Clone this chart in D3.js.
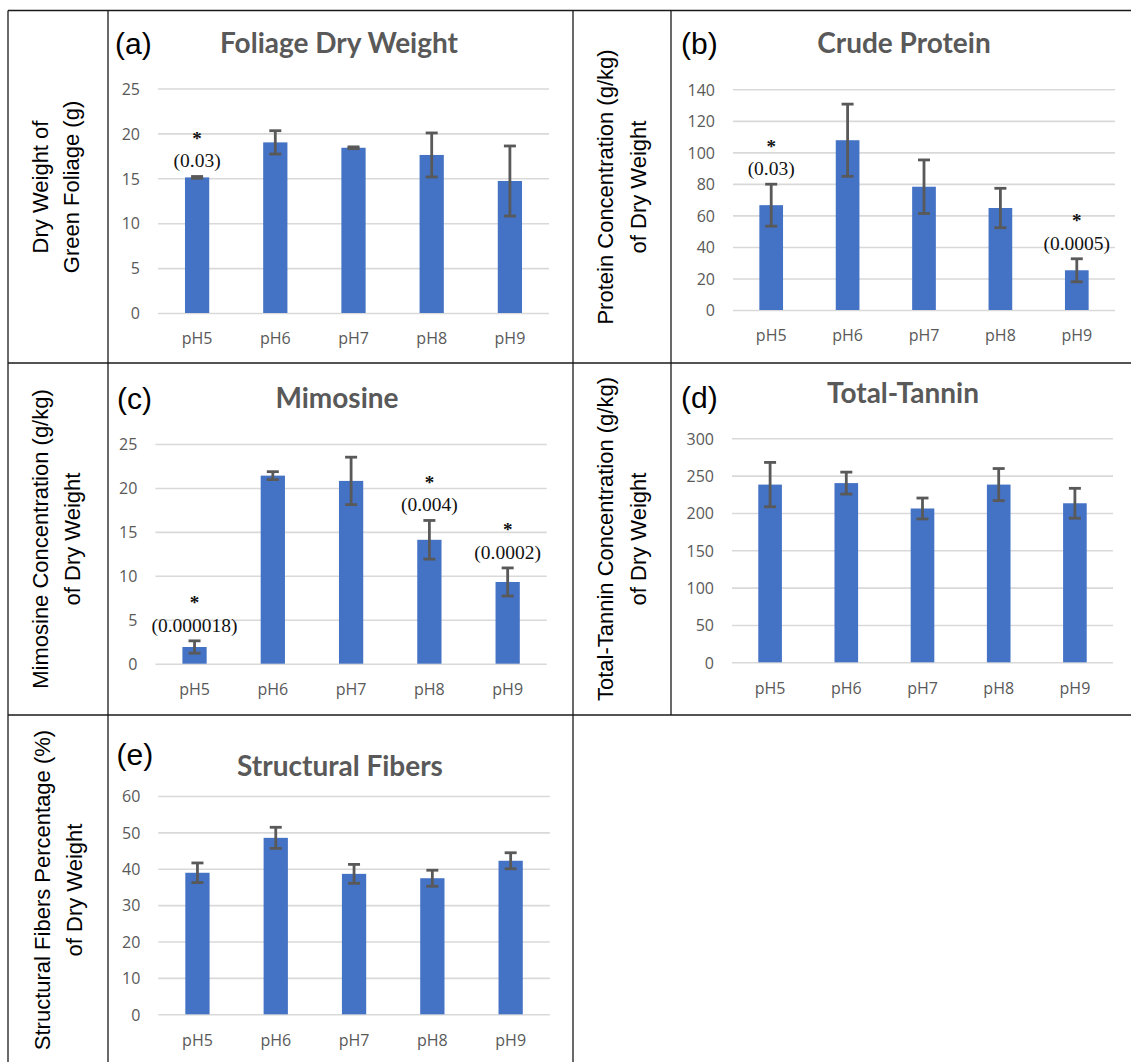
<!DOCTYPE html>
<html>
<head>
<meta charset="utf-8">
<script src="https://cdn.jsdelivr.net/npm/d3@7"></script>
<style>
  html, body { margin: 0; padding: 0; background: #fff; }
  svg { display: block; }
</style>
</head>
<body>
<svg id="fig" width="1131" height="1062"></svg>
<script>
// ---- data ----
const phLevels = ["pH5", "pH6", "pH7", "pH8", "pH9"];

const foliageMean = [15.1, 19.0, 18.4, 17.6, 14.7];
const foliageErr  = [0.1, 1.3, 0.1, 2.45, 3.9];
const foliageP    = ["0.03", null, null, null, null];
const foliageTicks = [0, 5, 10, 15, 20, 25];

const proteinMean = [66.5, 107.7, 78.2, 64.7, 25.2];
const proteinErr  = [13.3, 22.9, 17.0, 12.5, 7.3];
const proteinP    = ["0.03", null, null, null, "0.0005"];
const proteinTicks = [0, 20, 40, 60, 80, 100, 120, 140];

const mimosineMean = [1.9, 21.4, 20.8, 14.1, 9.3];
const mimosineErr  = [0.7, 0.45, 2.7, 2.2, 1.6];
const mimosineP    = ["0.000018", null, null, "0.004", "0.0002"];
const mimosineTicks = [0, 5, 10, 15, 20, 25];

const tanninMean = [238, 240, 206, 238, 213];
const tanninErr  = [29.7, 14.7, 14.0, 21.5, 20.0];
const tanninP    = [null, null, null, null, null];
const tanninTicks = [0, 50, 100, 150, 200, 250, 300];

const fiberMean = [38.9, 48.5, 38.6, 37.4, 42.2];
const fiberErr  = [2.7, 2.9, 2.6, 2.2, 2.2];
const fiberP    = [null, null, null, null, null];
const fiberTicks = [0, 10, 20, 30, 40, 50, 60];

// ---- panel layout ----
const panels = [
  { letter: "(a)", title: "Foliage Dry Weight", yLabel: ["Dry Weight of", "Green Foliage (g)"],
    mean: foliageMean, err: foliageErr, pv: foliageP, ticks: foliageTicks,
    plot: { l: 158, r: 549, t: 88.5, b: 313 },
    titlePos: [339, 52.7], letterPos: [115, 43], yLabPos: [[40, 71], 187] },
  { letter: "(b)", title: "Crude Protein", yLabel: ["Protein Concentration (g/kg)", "of Dry Weight"],
    mean: proteinMean, err: proteinErr, pv: proteinP, ticks: proteinTicks,
    plot: { l: 733, r: 1115, t: 89.3, b: 310 },
    titlePos: [904, 53.3], letterPos: [681, 43], yLabPos: [[605, 638], 187] },
  { letter: "(c)", title: "Mimosine", yLabel: ["Mimosine Concentration (g/kg)", "of Dry Weight"],
    mean: mimosineMean, err: mimosineErr, pv: mimosineP, ticks: mimosineTicks,
    plot: { l: 155.4, r: 546.8, t: 444, b: 663.7 },
    titlePos: [337, 407.7], letterPos: [117, 398], yLabPos: [[40, 72], 539] },
  { letter: "(d)", title: "Total-Tannin", yLabel: ["Total-Tannin Concentration (g/kg)", "of Dry Weight"],
    mean: tanninMean, err: tanninErr, pv: tanninP, ticks: tanninTicks,
    plot: { l: 732, r: 1113, t: 438.3, b: 662.3 },
    titlePos: [903, 403.3], letterPos: [681, 397], yLabPos: [[605, 638], 539] },
  { letter: "(e)", title: "Structural Fibers", yLabel: ["Structural Fibers Percentage (%)", "of Dry Weight"],
    mean: fiberMean, err: fiberErr, pv: fiberP, ticks: fiberTicks,
    plot: { l: 158.3, r: 549.8, t: 796, b: 1014.3 },
    titlePos: [340, 775.7], letterPos: [116.5, 754], yLabPos: [[42, 74], 890] }
];

const BAR = "#4472C4", GRID = "#d9d9d9", INK = "#595959";
const svg = d3.select("#fig");
svg.append("rect").attr("width", 1131).attr("height", 1062).attr("fill", "#fff");

// ---- table frame ----
const frame = svg.append("g").attr("stroke", "#1a1a1a").attr("stroke-width", 1.3).attr("fill", "none");
[[8, 10.5, 1131, 10.5], [8, 363, 1131, 363], [8, 715, 1131, 715],
 [8, 10.5, 8, 1062], [108, 10.5, 108, 1062], [573, 10.5, 573, 1062], [671, 10.5, 671, 715]]
  .forEach(([x1, y1, x2, y2]) => frame.append("line").attr("x1", x1).attr("y1", y1).attr("x2", x2).attr("y2", y2));

// ---- panels ----
panels.forEach(p => {
  const g = svg.append("g");
  const x = d3.scaleBand().domain(phLevels).range([p.plot.l, p.plot.r])
    .paddingInner(0.69).paddingOuter(0.345);
  const yMax = d3.max(p.ticks);
  const y = d3.scaleLinear().domain([0, yMax]).range([p.plot.b, p.plot.t]);

  // gridlines + tick labels
  const yAxis = d3.axisLeft(y).tickValues(p.ticks).tickSize(-(p.plot.r - p.plot.l)).tickPadding(18);
  const ax = g.append("g").attr("transform", `translate(${p.plot.l},0)`).call(yAxis);
  ax.select(".domain").remove();
  ax.selectAll(".tick line").attr("stroke", GRID).attr("stroke-width", 1.6);
  ax.selectAll(".tick text").attr("fill", INK).attr("font-family", "'Open Sans', sans-serif")
    .attr("font-size", 16).attr("dy", "0.36em");

  // x labels
  const xAxis = d3.axisBottom(x).tickSize(0).tickPadding(0);
  const axx = g.append("g").attr("transform", `translate(0,${p.plot.b})`).call(xAxis);
  axx.select(".domain").remove();
  axx.selectAll(".tick text").attr("fill", INK).attr("font-family", "'Open Sans', sans-serif")
    .attr("font-size", 16).attr("y", 25.5).attr("dy", "0.36em");

  const rows = phLevels.map((ph, i) => ({ ph, m: p.mean[i], e: p.err[i], pv: p.pv[i] }));

  // bars
  g.selectAll("rect.bar").data(rows).join("rect").attr("class", "bar")
    .attr("x", d => x(d.ph)).attr("width", x.bandwidth())
    .attr("y", d => y(d.m)).attr("height", d => y(0) - y(d.m))
    .attr("fill", BAR);

  // error bars
  const eb = g.selectAll("g.err").data(rows).join("g").attr("class", "err")
    .attr("stroke", INK).attr("stroke-width", 2.8).attr("fill", "none");
  const cx = d => x(d.ph) + x.bandwidth() / 2;
  eb.append("line").attr("x1", cx).attr("x2", cx).attr("y1", d => y(d.m + d.e)).attr("y2", d => y(d.m - d.e));
  eb.append("line").attr("x1", d => cx(d) - 6).attr("x2", d => cx(d) + 6).attr("y1", d => y(d.m + d.e)).attr("y2", d => y(d.m + d.e));
  eb.append("line").attr("x1", d => cx(d) - 6).attr("x2", d => cx(d) + 6).attr("y1", d => y(d.m - d.e)).attr("y2", d => y(d.m - d.e));

  // significance notes: p-value in parentheses, asterisk above it
  const sig = rows.filter(d => d.pv);
  g.selectAll("text.pv").data(sig).join("text").attr("class", "pv")
    .attr("x", cx).attr("y", d => y(d.m + d.e) - 16).attr("dy", "0.35em")
    .attr("text-anchor", "middle").attr("font-family", "'Liberation Serif', 'Times New Roman', serif")
    .attr("font-size", 19.5).attr("fill", "#111").text(d => `(${d.pv})`);
  g.selectAll("text.star").data(sig).join("text").attr("class", "star")
    .attr("x", cx).attr("y", d => y(d.m + d.e) - 31.5)
    .attr("text-anchor", "middle").attr("font-family", "'Liberation Serif', 'Times New Roman', serif")
    .attr("font-weight", "bold").attr("font-size", 19).attr("fill", "#111").text("*");

  // title
  g.append("text").attr("x", p.titlePos[0]).attr("y", p.titlePos[1]).attr("text-anchor", "middle")
    .attr("font-family", "Lato, sans-serif").attr("font-weight", "bold").attr("font-size", 28)
    .attr("fill", INK).text(p.title);

  // panel letter
  g.append("text").attr("x", p.letterPos[0]).attr("y", p.letterPos[1]).attr("dy", "0.35em")
    .attr("font-family", "'Liberation Sans', Arial, sans-serif").attr("font-size", 30)
    .attr("fill", "#000").text(p.letter);

  // rotated y label
  p.yLabel.forEach((line, i) => {
    g.append("text")
      .attr("transform", `translate(${p.yLabPos[0][i]},${p.yLabPos[1]}) rotate(-90)`)
      .attr("text-anchor", "middle").attr("dy", "0.35em")
      .attr("font-family", "'Liberation Sans', Arial, sans-serif").attr("font-size", 22)
      .attr("fill", "#000").text(line);
  });
});
</script>
</body>
</html>
